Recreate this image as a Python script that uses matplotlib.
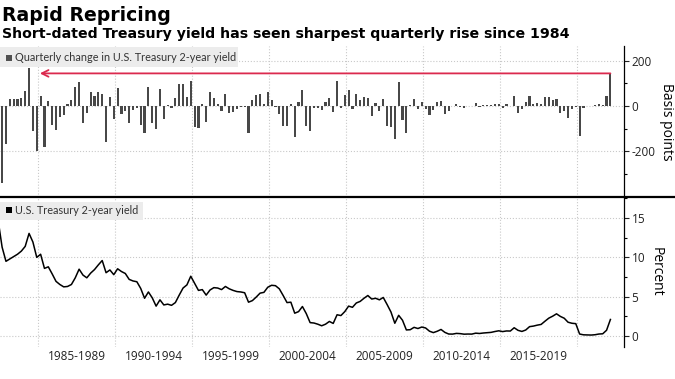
import matplotlib.pyplot as plt
import matplotlib.ticker as mticker
from matplotlib.lines import Line2D
from matplotlib.patches import Rectangle
import numpy as np
import pandas as pd

plt.rcParams['axes.unicode_minus'] = False

# quarterly observations, 1982Q2 .. 2022Q1
quarters = pd.period_range('1982Q2', '2022Q1', freq='Q')

# quarterly change in the 2-year yield, basis points
change_bp = [
    15, -340, -166, 33, 30, 31, 34, 67, 167, -111, -200, 44, -181, 24, -86, -104,
    -47, -40, 7, 27, 86, 108, -77, -33, 64, 44, 62,
    53, -158, 38, -59, 80, -37, -22, -74, -18, -10, -84, -121, 86, -77, -102, 77,
    -59, 6, -10, 37, 98, 98, 41, 111, -92, -96, 7,
    -70, 61, 34, 7, -21, 54, -33, -25, -15, -6, -6, -119, 27, 49, 52, 9,
    62, 27, -6, -36, -87, -87, 7, -136, 19, 71, -87,
    -111, -7, -7, -18, 16, 37, -25, 111, -7, 47, 71, -12, 55, 25, 41, 34,
    -44, 12, -21, 30, -87, -92, -145, 105, -64, -119, 4,
    30, -15, 19,
    -12, -41, -18, 17,
    23, -37, -21, -2,
    9, -3, -7, 2,
    -1, 12, -4, 6,
    4, 4, 11, 9,
    -10, 8, -2, 42,
    -33, -14, 18, 43,
    7, 12, 9, 41,
    39, 25, 30, -33,
    -23, -51, -13, -5,
    -132, -10, -2, -1,
    4, 9, 3, 45,
    144,
]

# 2-year Treasury yield at each quarter, percent
yield_pct = [
    14.6, 11.3, 9.5,
    9.8, 10.1, 10.4, 10.8,
    11.4, 13.05, 11.95, 10.0,
    10.4, 8.6, 8.8, 7.9,
    6.95, 6.55, 6.25, 6.3,
    6.55, 7.4, 8.5, 7.75,
    7.4, 8.0, 8.45, 9.05,
    9.6, 8.05, 8.4, 7.8,
    8.55, 8.2, 7.95, 7.2,
    7.0, 6.9, 6.05, 4.8,
    5.6, 4.85, 3.8, 4.6,
    3.95, 4.05, 3.9, 4.25,
    5.2, 6.1, 6.5, 7.6,
    6.7, 5.8, 5.9, 5.2,
    5.85, 6.15, 6.1, 5.9,
    6.3, 6.0, 5.8, 5.65,
    5.6, 5.5, 4.3, 4.5,
    4.95, 5.45, 5.55, 6.2,
    6.45, 6.4, 6.0, 5.15,
    4.25, 4.3, 2.9, 3.1,
    3.75, 2.85, 1.7, 1.65,
    1.5, 1.3, 1.5, 1.85,
    1.6, 2.7, 2.6, 3.1,
    3.8, 3.65, 4.2, 4.4,
    4.8, 5.15, 4.7, 4.8,
    4.6, 4.9, 4.0, 3.05,
    1.62, 2.63, 2.0, 0.77,
    0.8, 1.1, 0.95, 1.14,
    1.02, 0.61, 0.43, 0.60,
    0.83, 0.46, 0.25, 0.24,
    0.33, 0.30, 0.23, 0.25,
    0.24, 0.36, 0.32, 0.38,
    0.42, 0.46, 0.57, 0.66,
    0.56, 0.64, 0.63, 1.05,
    0.72, 0.58, 0.76, 1.19,
    1.26, 1.38, 1.47, 1.88,
    2.27, 2.52, 2.82, 2.49,
    2.26, 1.75, 1.62, 1.57,
    0.25, 0.15, 0.13, 0.12,
    0.16, 0.25, 0.28, 0.73,
    2.1,
]

period_starts = [1985, 1990, 1995, 2000, 2005, 2010, 2015]
period_labels = ['1985-1989', '1990-1994', '1995-1999', '2000-2004',
                 '2005-2009', '2010-2014', '2015-2019']
grid_years = [1985, 1990, 1995, 2000, 2005, 2010, 2015, 2020]

W, H = 675, 379
TICK_FONT = 'Open Sans'
LEGEND_FONT = 'Lato'
BAR_COLOR = '#484848'
GRID = dict(color='#c9c9c9', linestyle=':', linewidth=0.8)

# decimal year of each observation
t = np.array(quarters.year + quarters.quarter / 4 - 0.1)
x_min, x_max = 1982.513, 2023.032


def fx(px):
    return px / W


def fy(py):
    return 1 - py / H


fig = plt.figure(figsize=(W / 100, H / 100), dpi=100)
ax1 = fig.add_axes([0, fy(197), fx(624), (197 - 46) / H])
ax2 = fig.add_axes([0, fy(347), fx(624), (347 - 197) / H])

# --- top panel: quarterly change bars
ax1.bar(t, change_bp, width=0.14, color=BAR_COLOR, zorder=3)
ax1.set_ylim(-402, 265)
ax1.set_yticks([-200, 0, 200])
ax1.yaxis.set_minor_locator(mticker.MultipleLocator(100))
ax1.set_ylabel('Basis points', rotation=270, labelpad=13, fontsize=10, family=TICK_FONT)

# arrow from latest quarter back to the 1984 spike
spike = int(np.argmax(change_bp[:20]))
ax1.annotate('', xy=(t[spike] + 0.7, change_bp[-1]), xytext=(t[-1], change_bp[-1]),
             arrowprops=dict(arrowstyle='->', color='#db2a4e', lw=1.3,
                             shrinkA=0, shrinkB=0, mutation_scale=12), zorder=4)

# --- bottom panel: yield level
ax2.plot(t, yield_pct, color='black', lw=1.1, zorder=3)
ax2.set_ylim(-1.4, 17.68)
ax2.set_yticks([0, 5, 10, 15])
ax2.yaxis.set_minor_locator(mticker.MultipleLocator(2.5))
ax2.set_ylabel('Percent', rotation=270, labelpad=13, fontsize=10, family=TICK_FONT)

ax2.set_xticks([s + 2.5 for s in period_starts], minor=True)
ax2.set_xticklabels(period_labels, minor=True, fontsize=8.5, family=TICK_FONT,
                    color='#222222')
ax2.tick_params(axis='x', which='minor', length=0, pad=2)

for ax in (ax1, ax2):
    ax.set_xlim(x_min, x_max)
    ax.set_xticks(grid_years)
    ax.tick_params(axis='x', which='major', length=0, labelbottom=False)
    ax.yaxis.tick_right()
    ax.yaxis.set_label_position('right')
    ax.tick_params(axis='y', which='major', length=3.5, width=0.8, pad=2,
                   labelsize=8.5, colors='#222222')
    ax.tick_params(axis='y', which='minor', length=2, width=0.8)
    for lab in ax.get_yticklabels():
        lab.set_family(TICK_FONT)
    for s in ('left', 'top', 'bottom'):
        ax.spines[s].set_visible(False)
    ax.spines['right'].set_linewidth(0.9)
    ax.grid(True, which='major', **GRID)
    ax.set_facecolor('none')

# separator between the panels
fig.add_artist(Line2D([0, 1], [fy(197), fy(197)], color='black', lw=1.6))

# legend boxes
fig.add_artist(Rectangle((0, fy(67)), fx(238), (67 - 47) / H, transform=fig.transFigure,
                         facecolor='#ececec', edgecolor='none', zorder=5))
fig.add_artist(Rectangle((fx(6), fy(61)), fx(6), 6 / H, transform=fig.transFigure,
                         facecolor='#505050', edgecolor='none', zorder=6))
fig.text(fx(15), fy(57.5), 'Quarterly change in U.S. Treasury 2-year yield', va='center',
         fontsize=7.8, family=LEGEND_FONT, color='#333333', zorder=6)

fig.add_artist(Rectangle((0, fy(220)), fx(143), (220 - 202) / H, transform=fig.transFigure,
                         facecolor='#ececec', edgecolor='none', zorder=5))
fig.add_artist(Rectangle((fx(6), fy(213)), fx(6), 6 / H, transform=fig.transFigure,
                         facecolor='black', edgecolor='none', zorder=6))
fig.text(fx(15), fy(210.5), 'U.S. Treasury 2-year yield', va='center',
         fontsize=7.8, family=LEGEND_FONT, color='#333333', zorder=6)

# titles
fig.text(fx(2), fy(21), 'Rapid Repricing', va='baseline', ha='left', fontsize=13.6,
         weight='bold', family='DejaVu Sans')
fig.text(fx(2), fy(38), 'Short-dated Treasury yield has seen sharpest quarterly rise since 1984',
         va='baseline', ha='left', fontsize=10.2, weight='bold', family='DejaVu Sans')

fig.savefig('out.png', dpi=100)
